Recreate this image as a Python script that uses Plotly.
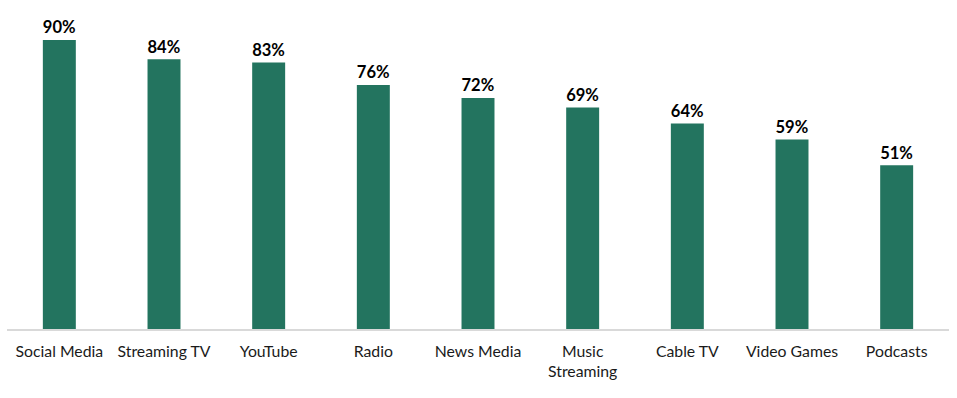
import plotly.graph_objects as go

categories = ["Social Media", "Streaming TV", "YouTube", "Radio", "News Media",
              "Music<br>Streaming", "Cable TV", "Video Games", "Podcasts"]
values = [90, 84, 83, 76, 72, 69, 64, 59, 51]
labels = [f"{v}%" for v in values]

fig = go.Figure(go.Bar(
    x=categories, y=values, text=labels, textposition="outside",
    textfont=dict(family="Lato", size=18, color="#000000", weight="bold"),
    marker=dict(color="#23745F", line=dict(width=0)),
    cliponaxis=False, hoverinfo="skip",
))
fig.update_layout(
    width=957, height=398,
    margin=dict(l=7, r=8, t=8, b=69),
    paper_bgcolor="white", plot_bgcolor="white",
    bargap=0.685, showlegend=False,
    font=dict(family="Lato", size=15.8, color="#1a1a1a"),
)
fig.update_xaxes(showline=True, linecolor="#d9d9d9", linewidth=1.5,
                 ticks="outside", ticklen=7, tickcolor="rgba(0,0,0,0)",
                 tickfont=dict(family="Lato", size=15.8, color="#1a1a1a"))
fig.update_yaxes(range=[0, 100], visible=False, showgrid=False, zeroline=False)
fig.write_html("out.html", config={"displayModeBar": False},
               post_script="document.body.style.margin='0px';document.body.style.overflow='hidden';")
